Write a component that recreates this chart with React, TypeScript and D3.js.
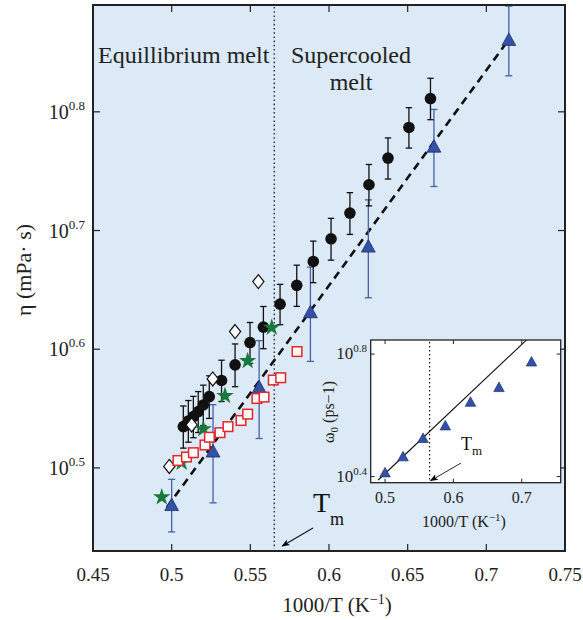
import React from "react";
import * as d3 from "d3";

// main panel data (1000/T in K^-1, viscosity in mPa·s)
const circleX = [0.5074, 0.5106, 0.5138, 0.5169, 0.5201, 0.5239, 0.5317, 0.5403, 0.5498, 0.5583, 0.5689, 0.5795, 0.59, 0.6013, 0.6133, 0.6254, 0.6375, 0.6508, 0.6645];
const circleY = [3.426, 3.464, 3.493, 3.527, 3.573, 3.631, 3.747, 3.862, 4.033, 4.155, 4.345, 4.506, 4.72, 4.932, 5.184, 5.477, 5.768, 6.121, 6.474];
const circleErr = [0.14, 0.14, 0.14, 0.14, 0.14, 0.15, 0.15, 0.16, 0.16, 0.17, 0.17, 0.18, 0.19, 0.2, 0.21, 0.22, 0.23, 0.24, 0.26];

const triX = [0.5, 0.5263, 0.5556, 0.5882, 0.625, 0.6667, 0.7143];
const triY = [2.943, 3.265, 3.698, 4.278, 4.859, 5.899, 7.256];
const triErr = [0.15, 0.31, 0.35, 0.39, 0.46, 0.44, 0.49];

const starX = [0.4937, 0.5064, 0.5201, 0.5339, 0.5483, 0.5636];
const starY = [2.988, 3.196, 3.41, 3.637, 3.892, 4.152];

const diamondX = [0.4985, 0.5127, 0.5261, 0.5403, 0.5551];
const diamondY = [3.171, 3.437, 3.758, 4.12, 4.539];

const squareX = [0.504, 0.5094, 0.5138, 0.5212, 0.524, 0.5307, 0.5358, 0.5441, 0.5483, 0.5542, 0.5587, 0.5646, 0.5693, 0.5797];
const squareY = [3.208, 3.23, 3.257, 3.306, 3.356, 3.386, 3.426, 3.467, 3.51, 3.618, 3.628, 3.75, 3.767, 3.963];

const fitX = [0.497, 0.7143];
const fitY = [2.93, 7.26];

const Tm = 0.5652;

const xTicks = [0.45, 0.5, 0.55, 0.6, 0.65, 0.7, 0.75];
const xTickLabels = ["0.45", "0.5", "0.55", "0.6", "0.65", "0.7", "0.75"];
const yTickExp = [0.5, 0.6, 0.7, 0.8];
const yTickLabels = ["0.5", "0.6", "0.7", "0.8"];

// inset data (omega_0 in ps^-1)
const insetX = [0.5, 0.5263, 0.5556, 0.5882, 0.625, 0.6667, 0.7143];
const insetY = [2.588, 2.919, 3.352, 3.684, 4.401, 4.915, 5.957];
const insetFitX = [0.49, 0.72];
const insetFitY = [2.448, 7.475];
const insetXTicks = [0.5, 0.6, 0.7];
const insetXTickLabels = ["0.5", "0.6", "0.7"];
const insetYTickExp = [0.4, 0.8];
const insetYTickLabels = ["0.4", "0.8"];

const font = "'Liberation Serif', 'Times New Roman', serif";
const blue = "#3352a6";
const blueBar = "#4660a8";

const tri = (s: number) => `M0,${-s * 0.55}L${s * 0.55},${s * 0.45}L${-s * 0.55},${s * 0.45}Z`;
const diamond = "M0,-7L5.6,0L0,7L-5.6,0Z";
const star = d3.symbol(d3.symbolStar, 95)() as string;

export default function App() {
  const x = d3.scaleLinear().domain([0.45, 0.75]).range([93, 565]);
  const y = d3.scaleLog().domain([10 ** 0.43, 10 ** 0.89]).range([551, 5]);
  const [x0, x1] = x.range();
  const [y0, y1] = y.range();

  const ix = d3.scaleLinear().domain([0.479, 0.757]).range([370.7, 560.7]);
  const iy = d3.scaleLog().domain([10 ** 0.38, 10 ** 0.846]).range([482.7, 340]);
  const [ix0, ix1] = ix.range();
  const [iy0, iy1] = iy.range();

  const fitLine = d3.line<number>().x((_, i) => x(fitX[i])).y((v) => y(v));
  const insetLine = d3.line<number>().x((_, i) => ix(insetFitX[i])).y((v) => iy(v));

  const tick = 7;
  const itick = 4;

  return (
    <svg width={583} height={620} style={{ position: "absolute", left: 0, top: 0, background: "#fff" }} fontFamily={font}>
      <defs>
        <marker id="arr" viewBox="0 0 10 10" refX="9" refY="5" markerWidth="10" markerHeight="8" markerUnits="userSpaceOnUse" orient="auto">
          <path d="M0,1L10,5L0,9L2.5,5Z" fill="#000" />
        </marker>
        <clipPath id="insetClip">
          <rect x={ix0} y={iy1} width={ix1 - ix0} height={iy0 - iy1} />
        </clipPath>
      </defs>

      {/* main plot background */}
      <rect x={x0} y={y1} width={x1 - x0} height={y0 - y1} fill="#dce9f6" />

      {/* Tm dotted line */}
      <line x1={x(Tm)} x2={x(Tm)} y1={y1 + 2} y2={y0 - 2} stroke="#111" strokeWidth={1.2} strokeDasharray="1.6 2.6" />

      {/* fit */}
      <path d={fitLine(fitY) as string} fill="none" stroke="#111" strokeWidth={2.6} strokeDasharray="8 5.5" />

      {/* blue error bars + triangles */}
      {triX.map((t, i) => {
        const cx = x(t);
        const lo = y(triY[i] - triErr[i]);
        const hi = y(triY[i] + triErr[i]);
        return (
          <g key={"tb" + i} stroke={blueBar} strokeWidth={1.3}>
            <line x1={cx} x2={cx} y1={lo} y2={hi} />
            <line x1={cx - 3.5} x2={cx + 3.5} y1={lo} y2={lo} />
            <line x1={cx - 3.5} x2={cx + 3.5} y1={hi} y2={hi} />
          </g>
        );
      })}
      {triX.map((t, i) => (
        <path key={"t" + i} d={tri(12.5)} transform={`translate(${x(t)},${y(triY[i])})`} fill={blue} stroke="#1d2f70" strokeWidth={0.8} />
      ))}

      {/* black error bars + circles */}
      {circleX.map((t, i) => {
        const cx = x(t);
        const lo = y(circleY[i] - circleErr[i]);
        const hi = y(circleY[i] + circleErr[i]);
        return (
          <g key={"cb" + i} stroke="#111" strokeWidth={1.3}>
            <line x1={cx} x2={cx} y1={lo} y2={hi} />
            <line x1={cx - 3.2} x2={cx + 3.2} y1={lo} y2={lo} />
            <line x1={cx - 3.2} x2={cx + 3.2} y1={hi} y2={hi} />
          </g>
        );
      })}
      {circleX.map((t, i) => (
        <circle key={"c" + i} cx={x(t)} cy={y(circleY[i])} r={5.8} fill="#111" />
      ))}

      {/* diamonds */}
      {diamondX.map((t, i) => (
        <path key={"d" + i} d={diamond} transform={`translate(${x(t)},${y(diamondY[i])})`} fill="#fff" stroke="#111" strokeWidth={1.2} />
      ))}

      {/* stars */}
      {starX.map((t, i) => (
        <path key={"s" + i} d={star} transform={`translate(${x(t)},${y(starY[i])})`} fill="#17793a" />
      ))}

      {/* squares */}
      {squareX.map((t, i) => (
        <rect key={"q" + i} x={x(t) - 4.8} y={y(squareY[i]) - 4.8} width={9.6} height={9.6} fill="#fff" stroke="#e3262b" strokeWidth={1.5} />
      ))}

      {/* region labels */}
      <text x={98} y={63} fontSize={24} fill="#222">Equillibrium melt</text>
      <text x={351} y={63} fontSize={24} fill="#222" textAnchor="middle">Supercooled</text>
      <text x={351} y={90} fontSize={24} fill="#222" textAnchor="middle">melt</text>

      {/* main Tm annotation */}
      <text x={313} y={512} fontSize={28} fill="#111">T</text>
      <text x={330} y={525} fontSize={18} fill="#111">m</text>
      <line x1={313} y1={528} x2={x(Tm) + 8} y2={y0 - 5} stroke="#111" strokeWidth={1.1} markerEnd="url(#arr)" />

      {/* frame and ticks */}
      <rect x={x0} y={y1} width={x1 - x0} height={y0 - y1} fill="none" stroke="#222" strokeWidth={2} />
      {xTicks.slice(1, -1).map((t) => (
        <g key={"xt" + t} stroke="#222" strokeWidth={1.2}>
          <line x1={x(t)} x2={x(t)} y1={y0} y2={y0 - tick} />
          <line x1={x(t)} x2={x(t)} y1={y1} y2={y1 + tick} />
        </g>
      ))}
      {yTickExp.map((e) => (
        <g key={"yt" + e} stroke="#222" strokeWidth={1.2}>
          <line x1={x0} x2={x0 + tick} y1={y(10 ** e)} y2={y(10 ** e)} />
          <line x1={x1} x2={x1 - tick} y1={y(10 ** e)} y2={y(10 ** e)} />
        </g>
      ))}
      {xTicks.map((t, i) => (
        <text key={"xl" + t} x={x(t)} y={581} fontSize={19} textAnchor="middle" fill="#222">{xTickLabels[i]}</text>
      ))}
      {yTickExp.map((e, i) => (
        <text key={"yl" + e} x={85} y={y(10 ** e) + 7} fontSize={20} textAnchor="end" fill="#222">
          10<tspan dy={-9} fontSize={13}>{yTickLabels[i]}</tspan>
        </text>
      ))}

      {/* axis titles */}
      <text x={337} y={612} fontSize={21} textAnchor="middle" fill="#222">
        1000/T (K<tspan dy={-8} fontSize={14}>−1</tspan><tspan dy={8}>)</tspan>
      </text>
      <text transform={`translate(31,270) rotate(-90)`} fontSize={22} textAnchor="middle" fill="#222">η (mPa· s)</text>

      {/* inset */}
      <rect x={ix0} y={iy1} width={ix1 - ix0} height={iy0 - iy1} fill="#fff" />
      <line x1={ix(Tm)} x2={ix(Tm)} y1={iy1 + 2} y2={iy0 - 2} stroke="#111" strokeWidth={1.1} strokeDasharray="1.4 2.6" />
      <g clipPath="url(#insetClip)">
        <path d={insetLine(insetFitY) as string} fill="none" stroke="#111" strokeWidth={1.1} />
      </g>
      {insetX.map((t, i) => (
        <path key={"it" + i} d={tri(9.5)} transform={`translate(${ix(t)},${iy(insetY[i])})`} fill={blue} stroke="#1d2f70" strokeWidth={0.7} />
      ))}
      <text x={461} y={450} fontSize={18} fill="#111">T</text>
      <text x={472} y={455} fontSize={13} fill="#111">m</text>
      <line x1={461} y1={463} x2={ix(Tm) + 1} y2={iy0 - 2} stroke="#111" strokeWidth={0.9} markerEnd="url(#arr)" />
      <rect x={ix0} y={iy1} width={ix1 - ix0} height={iy0 - iy1} fill="none" stroke="#222" strokeWidth={1.3} />
      {insetXTicks.map((t) => (
        <g key={"ixt" + t} stroke="#222" strokeWidth={1}>
          <line x1={ix(t)} x2={ix(t)} y1={iy0} y2={iy0 - itick} />
          <line x1={ix(t)} x2={ix(t)} y1={iy1} y2={iy1 + itick} />
        </g>
      ))}
      {insetYTickExp.map((e) => (
        <g key={"iyt" + e} stroke="#222" strokeWidth={1}>
          <line x1={ix0} x2={ix0 + itick} y1={iy(10 ** e)} y2={iy(10 ** e)} />
          <line x1={ix1} x2={ix1 - itick} y1={iy(10 ** e)} y2={iy(10 ** e)} />
        </g>
      ))}
      {insetXTicks.map((t, i) => (
        <text key={"ixl" + t} x={ix(t)} y={503} fontSize={16} textAnchor="middle" fill="#222">{insetXTickLabels[i]}</text>
      ))}
      {insetYTickExp.map((e, i) => (
        <text key={"iyl" + e} x={367} y={iy(10 ** e) + 5} fontSize={17} textAnchor="end" fill="#222">
          10<tspan dy={-7} fontSize={11}>{insetYTickLabels[i]}</tspan>
        </text>
      ))}
      <text x={464} y={527} fontSize={16} textAnchor="middle" fill="#222">
        1000/T (K<tspan dy={-6} fontSize={11}>−1</tspan><tspan dy={6}>)</tspan>
      </text>
      <text transform={`translate(334,412) rotate(-90)`} fontSize={16} textAnchor="middle" fill="#222">
        ω<tspan dy={4} fontSize={11}>0</tspan><tspan dy={-4}> (ps−1)</tspan>
      </text>
    </svg>
  );
}
